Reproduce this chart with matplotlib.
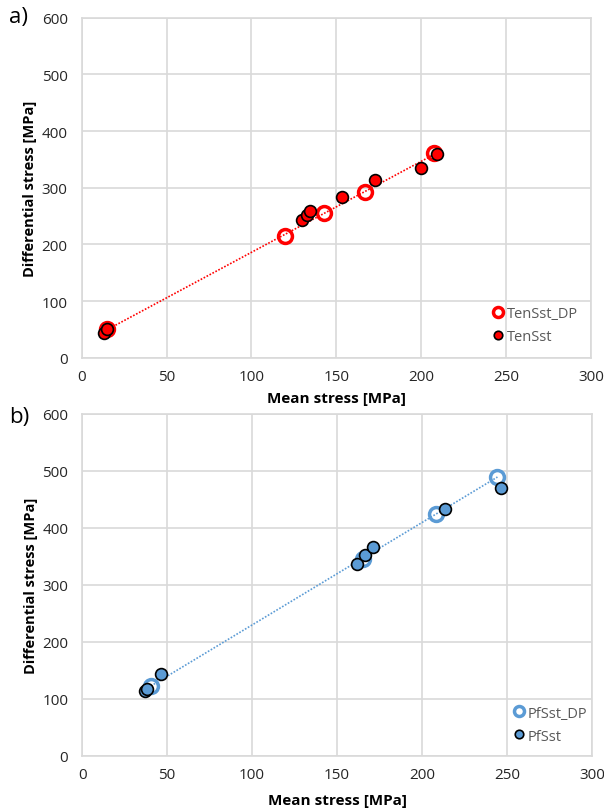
import numpy as np
import matplotlib.pyplot as plt

plt.rcParams['font.family'] = ['Open Sans', 'DejaVu Sans']

# panel a) tension sandstone
ten_dp_x = [14.8, 120.0, 142.7, 166.6, 207.2]
ten_dp_y = [51, 215, 255, 292, 361]
ten_x = [13.2, 15.0, 129.9, 132.6, 134.6, 153.4, 172.6, 199.9, 209.0]
ten_y = [44, 51, 244, 252.7, 259.8, 283, 313, 335, 360]

# panel b) PfSst
pf_dp_x = [40.4, 165.3, 208.2, 244.4]
pf_dp_y = [122.8, 346, 424, 490]
pf_x = [36.9, 37.9, 46.4, 161.6, 166.5, 171.2, 213.8, 246.7]
pf_y = [113, 117, 142.8, 337, 351.6, 367, 433, 470]

x_ticks = [0, 50, 100, 150, 200, 250, 300]
y_ticks = [0, 100, 200, 300, 400, 500, 600]

red = '#ff0000'
blue = '#5b9bd5'
grid_c = '#d9d9d9'
txt_c = '#262626'
leg_c = '#595959'

fig = plt.figure(figsize=(6.04, 8.12), dpi=100)
ax1 = fig.add_axes([0.135, 0.558, 0.844, 0.419])
ax2 = fig.add_axes([0.136, 0.068, 0.844, 0.421])


def style(ax, xlab_y):
    ax.set_xlim(0, 300)
    ax.set_ylim(0, 600)
    ax.set_xticks(x_ticks)
    ax.set_yticks(y_ticks)
    ax.grid(True, color=grid_c, linewidth=1.2)
    ax.set_axisbelow(True)
    for s in ax.spines.values():
        s.set_color(grid_c)
        s.set_linewidth(1.2)
    ax.tick_params(length=0, labelsize=11, colors=txt_c)
    ax.tick_params(axis='x', pad=8)
    ax.tick_params(axis='y', pad=10)
    ax.set_xlabel('Mean stress [MPa]', fontsize=11, fontweight='bold', va='top')
    ax.set_ylabel('Differential stress [MPa]', fontsize=10.5, fontweight='bold')
    ax.xaxis.set_label_coords(0.5, xlab_y)
    ax.yaxis.set_label_coords(-0.087, 0.5)


def trend(ax, xs, ys, color):
    k, b = np.polyfit(xs, ys, 1)
    xx = np.array([min(xs), max(xs)])
    ax.plot(xx, k * xx + b, linestyle=(0, (1, 1)), color=color, linewidth=1.2, zorder=2)


for ax, dx, dy, fx, fy, c, names, xlab_y, leg_pos in [
    (ax1, ten_dp_x, ten_dp_y, ten_x, ten_y, red, ('TenSst_DP', 'TenSst'), -0.098, (0.806, 0.152)),
    (ax2, pf_dp_x, pf_dp_y, pf_x, pf_y, blue, ('PfSst_DP', 'PfSst'), -0.108, (0.845, 0.147)),
]:
    style(ax, xlab_y)
    trend(ax, dx, dy, c)
    ax.plot(dx, dy, 'o', markersize=10, markerfacecolor='none', markeredgecolor=c,
            markeredgewidth=2.5, label=names[0], zorder=3)
    ax.plot(fx, fy, 'o', markersize=8.5, markerfacecolor=c, markeredgecolor='black',
            markeredgewidth=1.2, label=names[1], zorder=4)
    ax.legend(loc='upper left', bbox_to_anchor=leg_pos, frameon=False, fontsize=10.5,
              handletextpad=0.2, handlelength=0.8, labelspacing=0.55, borderaxespad=0,
              borderpad=0, markerscale=0.72, labelcolor=leg_c)

fig.text(0.015, 1 - 18 / 812, 'a)', fontsize=16, va='center', ha='left')
fig.text(0.015, 1 - 418 / 812, 'b)', fontsize=16, va='center', ha='left')

fig.savefig('out.png', dpi=100)
